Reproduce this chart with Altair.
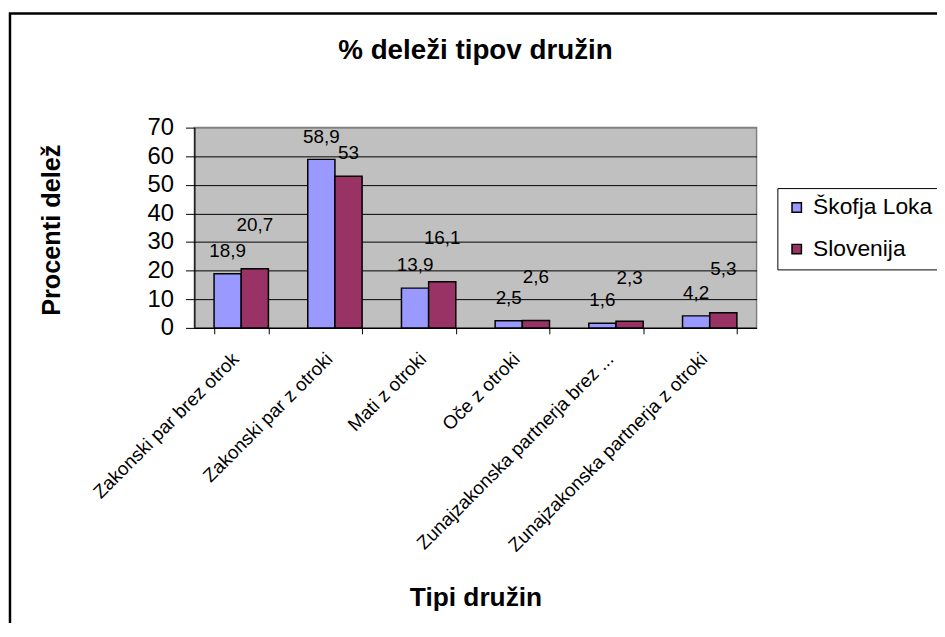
import altair as alt
import pandas as pd

categories = [
    "Zakonski par brez otrok",
    "Zakonski par z otroki",
    "Mati z otroki",
    "Oče z otroki",
    "Zunajzakonska partnerja brez ...",
    "Zunajzakonska partnerja z otroki",
]
series = ["Škofja Loka", "Slovenija"]
skofja_loka = [18.9, 58.9, 13.9, 2.5, 1.6, 4.2]
slovenija = [20.7, 53.0, 16.1, 2.6, 2.3, 5.3]
y_ticks = [0, 10, 20, 30, 40, 50, 60, 70]
colors = ["#9999FF", "#993366"]

rows = []
for c, a, b in zip(categories, skofja_loka, slovenija):
    rows.append({"kat": c, "serija": series[0], "vrednost": a})
    rows.append({"kat": c, "serija": series[1], "vrednost": b})
df = pd.DataFrame(rows)
df["oznaka"] = df["vrednost"].map(lambda v: f"{v:g}".replace(".", ","))

FONT = "Liberation Sans"

x_scale = alt.Scale(paddingInner=0.42, paddingOuter=0.21)
y_scale = alt.Scale(domain=[0, 70], nice=False)

x_axis = alt.Axis(
    title="Tipi družin",
    titleFontSize=26.5,
    titleFontWeight="bold",
    titleColor="black",
    titleY=272,
    titleBaseline="middle",
    labelAngle=315,
    labelAlign="right",
    labelBaseline="middle",
    labelFontSize=19,
    labelColor="black",
    labelOffset=-6,
    labelPadding=22,
    labelLimit=400,
    labelOverlap=False,
    tickBand="extent",
    tickSize=6,
    tickColor="black",
    domainColor="black",
    domainWidth=1.2,
)
y_axis = alt.Axis(
    values=y_ticks,
    title="Procenti delež",
    titleFontSize=25.5,
    titleFontWeight="bold",
    titleColor="black",
    titleX=-144,
    titleY=103,
    titleAngle=270,
    titleBaseline="middle",
    labelFontSize=24,
    labelColor="black",
    labelPadding=12,
    labelOverlap=False,
    labelFlush=False,
    tickSize=9,
    tickColor="black",
    domainColor="black",
    domainWidth=1.2,
    grid=True,
    gridColor={"condition": {"test": "datum.value >= 70", "value": "#808080"}, "value": "black"},
    gridWidth=1,
    gridOpacity=1,
)

x_enc = alt.X("kat:N", sort=categories, scale=x_scale, axis=x_axis)
xo_enc = alt.XOffset("serija:N", sort=series, scale=alt.Scale(paddingInner=0, paddingOuter=0))
y_enc = alt.Y("vrednost:Q", scale=y_scale, axis=y_axis)

bars = alt.Chart(df).mark_bar(stroke="black", strokeWidth=1.5).encode(
    x=x_enc,
    xOffset=xo_enc,
    y=y_enc,
    color=alt.Color(
        "serija:N",
        sort=series,
        scale=alt.Scale(domain=series, range=colors),
        legend=alt.Legend(
            title=None,
            orient="none",
            legendX=588,
            legendY=61,
            strokeColor="black",
            padding=8,
            symbolType="square",
            symbolSize=90,
            symbolStrokeColor="black",
            symbolStrokeWidth=1.5,
            labelFontSize=23,
            labelColor="black",
            rowPadding=18,
            labelOffset=5,
        ),
    ),
)

base_text = alt.Chart(df).encode(
    x=x_enc,
    xOffset=xo_enc,
    y=y_enc,
    text="oznaka:N",
)
lbl_left = base_text.transform_filter(alt.datum.serija == series[0]).mark_text(
    fontSize=19, color="black", baseline="middle", dy=-23
)
lbl_right_low = base_text.transform_filter(
    (alt.datum.serija == series[1]) & (alt.datum.vrednost < 50)
).mark_text(fontSize=19, color="black", baseline="middle", dy=-44)
lbl_right_high = base_text.transform_filter(
    (alt.datum.serija == series[1]) & (alt.datum.vrednost >= 50)
).mark_text(fontSize=19, color="black", baseline="middle", dy=-23)

frame = alt.Chart(pd.DataFrame({"f": [0]})).mark_rect(
    fillOpacity=0, stroke="black", strokeWidth=2.5
).encode(
    x=alt.value(-186), x2=alt.value(1000), y=alt.value(-115), y2=alt.value(700)
)

chart = (
    alt.layer(bars, lbl_left, lbl_right_low, lbl_right_high, frame)
    .properties(
        width=567,
        height=202,
        autosize=alt.AutoSizeParams(type="none"),
        padding={"left": 188, "top": 118, "right": 182, "bottom": 295},
        title=alt.TitleParams(
            "% deleži tipov družin",
            fontSize=28,
            fontWeight="bold",
            color="black",
            anchor="middle",
            frame="group",
            baseline="middle",
            offset=0,
            dy=67,
        ),
        background="white",
    )
    .configure(font=FONT)
    .configure_view(fill="#C0C0C0", stroke="#808080", strokeWidth=1.5)
)

chart.save("out.html", embed_options={"renderer": "svg", "actions": False})
